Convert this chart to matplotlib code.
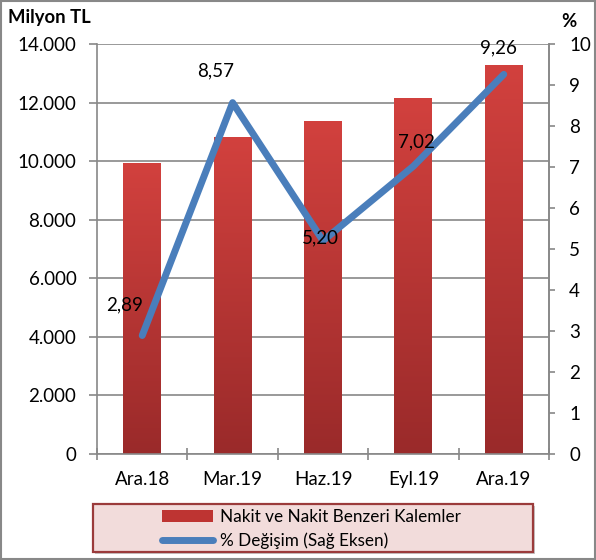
import numpy as np
import matplotlib.pyplot as plt
from matplotlib.colors import LinearSegmentedColormap
from matplotlib.patches import Rectangle, Patch
from matplotlib.lines import Line2D

categories = ['Ara.18', 'Mar.19', 'Haz.19', 'Eyl.19', 'Ara.19']
nakit = [9950, 10830, 11380, 12160, 13300]
degisim = [2.89, 8.57, 5.20, 7.02, 9.26]
degisim_labels = ['2,89', '8,57', '5,20', '7,02', '9,26']
left_ticks = [0, 2000, 4000, 6000, 8000, 10000, 12000, 14000]
left_tick_labels = ['0', '2.000', '4.000', '6.000', '8.000', '10.000', '12.000', '14.000']
right_ticks = list(range(0, 11))

# label offsets (points), where Excel put them
label_offsets = [(-12.4, 22), (-12, 22.8), (-2, 2), (1.9, 17.4), (-4.2, 19)]

plt.rcParams['font.family'] = ['Lato', 'DejaVu Sans']
plt.rcParams['font.size'] = 13.5

fig = plt.figure(figsize=(5.96, 5.6), dpi=100)
ax = fig.add_axes([0.1628, 0.1893, 0.7583, 0.7321])

x = np.arange(len(categories))
width = 0.42
bars = ax.bar(x, nakit, width=width, color='none', zorder=2)

# degrade doldurma
cmap = LinearSegmentedColormap.from_list('red', ['#9A2A2A', '#D2413E'])
grad = np.linspace(0, 1, 256).reshape(-1, 1)
for b in bars:
    x0, y0 = b.get_x(), b.get_y()
    im = ax.imshow(grad, cmap=cmap, origin='lower', aspect='auto',
                   extent=(x0, x0 + b.get_width(), y0, y0 + b.get_height()), zorder=2)
    im.set_clip_path(b)

ax.set_xlim(-0.5, len(categories) - 0.5)
ax.set_ylim(0, 14000)
ax.set_yticks(left_ticks)
ax.set_yticklabels(left_tick_labels)
ax.set_xticks(x)
ax.set_xticklabels(categories)
ax.set_xticks(np.arange(-0.5, len(categories), 1), minor=True)
ax.tick_params(axis='x', which='major', length=0, pad=12)
ax.tick_params(axis='x', which='minor', length=9, width=1.2, color='#888888', direction='inout')
ax.tick_params(axis='y', length=5.8, width=1.2, color='#888888', direction='out', pad=9)
ax.grid(True, axis='y', color='#888888', linewidth=1.2, zorder=0)
ax.set_axisbelow(True)
ax.spines['top'].set_visible(False)
for side in ['left', 'right', 'bottom']:
    ax.spines[side].set_color('#888888')
    ax.spines[side].set_linewidth(1.2)

ax2 = ax.twinx()
ax2.plot(x, degisim, color='#4A7EBB', linewidth=5, solid_capstyle='round',
         solid_joinstyle='round', zorder=3)
ax2.set_ylim(0, 10)
ax2.set_yticks(right_ticks)
ax2.tick_params(axis='y', length=4.5, width=1.2, color='#888888', direction='out', pad=10)
for side in ['top', 'left', 'bottom']:
    ax2.spines[side].set_visible(False)
ax2.spines['right'].set_color('#888888')
ax2.spines['right'].set_linewidth(1.2)

for xi, v, lbl, off in zip(x, degisim, degisim_labels, label_offsets):
    ax2.annotate(lbl, (xi, v), xytext=off, textcoords='offset points',
                 ha='center', va='center', fontsize=13.5)

fig.text(0.0134, 0.968, 'Milyon TL', fontsize=13.3, fontweight='bold', ha='left', va='center')
fig.text(0.955, 0.962, '%', fontsize=13.3, fontweight='bold', ha='center', va='center')

# legend kutusu
box = Rectangle((0.156, 0.0143), 0.738, 0.0857, transform=fig.transFigure,
                facecolor='#F2DCDB', edgecolor='#9B3B3B', linewidth=1.6)
shadow = Rectangle((0.159, 0.0105), 0.738, 0.0857, transform=fig.transFigure,
                   facecolor='#C8C8C8', edgecolor='none')
fig.patches.extend([shadow, box])

handles = [Patch(facecolor='#BE3432', edgecolor='none'),
           Line2D([0], [0], color='#4A7EBB', linewidth=5, solid_capstyle='round')]
fig.legend(handles, ['Nakit ve Nakit Benzeri Kalemler', '% Değişim (Sağ Eksen)'],
           loc='center', bbox_to_anchor=(0.523, 0.056), frameon=False,
           fontsize=12.3, handlelength=3.0, handletextpad=0.4, labelspacing=0.45,
           borderpad=0)

# dis cerceve
fig.patches.append(Rectangle((0.002, 0.002), 0.996, 0.996, transform=fig.transFigure,
                             facecolor='none', edgecolor='#888888', linewidth=1.5))

fig.savefig('out.png', dpi=100)
